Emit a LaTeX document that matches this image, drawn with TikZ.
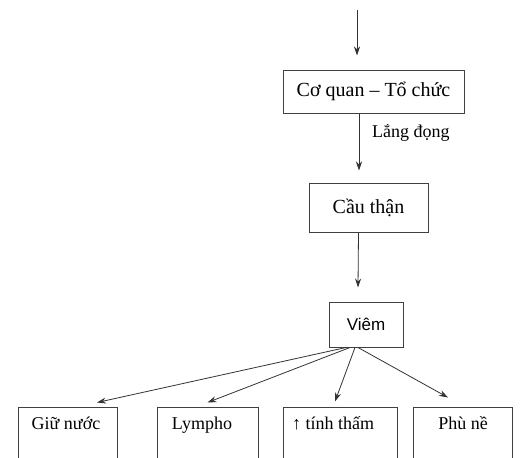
\documentclass[tikz,border=0pt]{standalone}
\usepackage{fontspec}
\setmainfont{Liberation Serif}
\setsansfont{Liberation Sans}
\usetikzlibrary{arrows.meta}
\tikzset{
  box/.style={draw=black!75, line width=1pt, rectangle, inner sep=0pt},
  arr/.style={draw=black!80, line width=0.8pt, -{Stealth[length=9pt,width=6pt]}},
  big/.style={font=\fontsize{20}{24}\selectfont},
  mid/.style={font=\fontsize{18}{22}\selectfont},
}
\begin{document}
\begin{tikzpicture}[x=1pt,y=-1pt]
\useasboundingbox (0,0) rectangle (528,458);
\clip (0,0) rectangle (528,458);
\fill[white] (0,0) rectangle (528,458);

% main chain
\node[box, big, minimum width=181pt, minimum height=43pt] (cq) at (373.5,91.5) {Cơ quan -- Tổ chức};
\node[box, big, minimum width=119pt, minimum height=49pt] (ct) at (368.5,207.5) {Cầu thận};
\node[box, font=\sffamily\fontsize{17}{20}\selectfont, minimum width=74pt, minimum height=45pt] (viem) at (366,324.5) {Viêm};

\coordinate (src) at (357,10);
\draw[arr] (src) -- ([xshift=-16.5pt,yshift=14pt]cq.north);
\draw[arr] ([xshift=-14.5pt]cq.south) -- ([xshift=-9.5pt,yshift=12pt]ct.north);
\node[font=\fontsize{18}{22}\selectfont, anchor=base west, inner sep=0pt] (lang) at (372,137) {Lắng đọng};
\draw[arr] ([xshift=-10pt]ct.south) -- ([xshift=-8pt,yshift=14pt]viem.north);

% bottom row (boxes run past the lower edge)
\node[box, minimum width=99pt, minimum height=70pt] (g) at (67.5,442) {};
\node[box, minimum width=101pt, minimum height=70pt] (l) at (207.5,442) {};
\node[box, minimum width=114pt, minimum height=70pt] (t) at (340,442) {};
\node[box, minimum width=99pt, minimum height=70pt] (p) at (462.5,442) {};

\node[mid, anchor=base] (gt) at (66,429) {Giữ nước};
\node[mid, anchor=base] (lt) at (202,429) {Lympho};
\node[mid, anchor=base] (tt) at (333,429) {↑ tính thấm};
\node[mid, anchor=base] (pt) at (463,429) {Phù nề};

\draw[arr] ([xshift=-20pt]viem.south) -- ([xshift=29.5pt,yshift=4pt]g.north);
\draw[arr] ([xshift=-16pt]viem.south) -- ([yshift=4pt]l.north);
\draw[arr] ([xshift=-11pt]viem.south) -- ([xshift=-5pt,yshift=5pt]t.north);
\draw[arr] ([xshift=-8pt]viem.south) -- ([xshift=-14.5pt,yshift=9pt]p.north);
\end{tikzpicture}
\end{document}
